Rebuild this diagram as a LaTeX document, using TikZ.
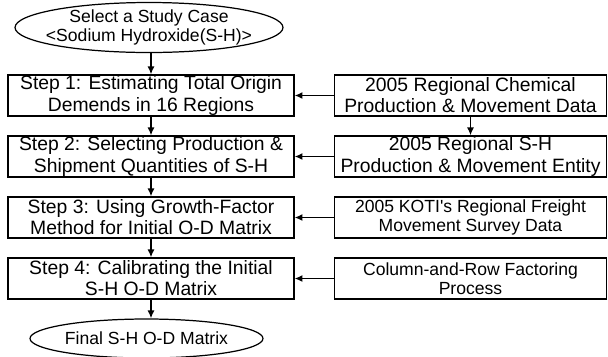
\documentclass[tikz,border=0pt]{standalone}
\usepackage{fontspec}
\setmainfont{Liberation Sans}
\usetikzlibrary{positioning,shapes,arrows.meta}

\begin{document}
\begin{tikzpicture}[x=0.02cm,y=-0.02cm,>={Latex[length=4.5pt,width=4pt]},
  stepbox/.style={draw,line width=0.7pt,minimum width=5.72cm,minimum height=0.82cm,
    inner sep=0pt,align=center,font=\fontsize{11}{12}\selectfont},
  databox/.style={stepbox,minimum width=5.44cm},
  smalltext/.style={font=\fontsize{10}{10.8}\selectfont},
  oval/.style={draw,ellipse,line width=0.7pt,inner sep=0pt,align=center,smalltext},
  flow/.style={->,line width=1pt}]
  \useasboundingbox (0,0) rectangle (608,356);

  % start and end
  \node[oval,inner xsep=-0.5cm,minimum width=5.36cm,minimum height=0.98cm] (case) at (149,27.5)
    {Select a Study Case\\<Sodium Hydroxide(S-H)>};
  \node[oval,minimum width=4.66cm,minimum height=0.78cm] (final) at (146.5,338.5)
    {Final S-H O-D Matrix};

  % steps
  \node[stepbox] (s1) at (151,95.5) {Step 1: Estimating Total Origin\\Demends in 16 Regions};
  \node[stepbox] (s2) at (151,156.5) {Step 2: Selecting Production \&\\Shipment Quantities of S-H};
  \node[stepbox] (s3) at (151,217.5) {Step 3: Using Growth-Factor\\Method for Initial O-D Matrix};
  \node[stepbox] (s4) at (151,278.5) {Step 4: Calibrating the Initial\\S-H O-D Matrix};

  % input data
  \node[databox] (d1) at (470.5,95.5) {2005 Regional Chemical\\Production \& Movement Data};
  \node[databox] (d2) at (470.5,156.5) {2005 Regional S-H\\Production \& Movement Entity};
  \node[databox,smalltext] (d3) at (470.5,217.5) {2005 KOTI\textquotesingle s Regional Freight\\Movement Survey Data};
  \node[databox,smalltext] (d4) at (470.5,278.5) {Column-and-Row Factoring\\Process};

  \draw[flow] (case.south -| s1) -- (s1);
  \foreach \i [evaluate=\i as \j using int(\i+1)] in {1,2,3} {
  \draw[flow] (s\i) -- (s\j);
  }
  \draw[flow] (s4.south) -- (s4.south |- final.north);
  \foreach \i in {1,...,4} {
  \draw[flow] (d\i) -- (s\i);
  }
  \draw[flow] (d1) -- (d2);
\end{tikzpicture}
\end{document}
